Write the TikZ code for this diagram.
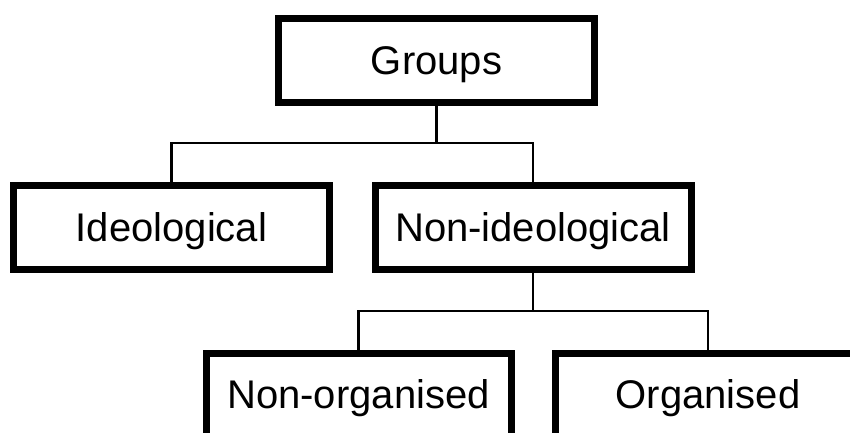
\documentclass[tikz,border=0pt]{standalone}
\usepackage{fontspec}
\setmainfont{Liberation Sans}

\begin{document}
\begin{tikzpicture}[x=1pt, y=-1pt,
  groupbox/.style={draw, line width=7pt, inner sep=0pt,
    minimum width=316pt, minimum height=84pt,
    text height=28.6pt, text depth=0pt,
    font=\fontsize{40}{48}\selectfont},
  lowbox/.style={groupbox, minimum width=305pt, minimum height=83pt},
  link/.style={line width=2.4pt}]
  \useasboundingbox (0,0) rectangle (850,433);
  \clip (0,0) rectangle (850,433);

  \node[groupbox] (groups) at (436.5,60.5) {Groups};
  \node[groupbox] (ideo) at (171.5,227) {Ideological};
  \node[groupbox] (nonideo) at (533,227) {Non-ideological};
  \node[lowbox] (nonorg) at (358.5,394.5) {Non-organised};
  \node[lowbox] (org) at (708,394.5) {Organised};

  \coordinate (split1) at (groups.south |- 0,143);
  \coordinate (split2) at (nonideo.south |- 0,311);

  \draw[link] (groups) -- (split1);
  \draw[link] (ideo.north) |- (split1) -| (nonideo.north);
  \draw[link] (nonideo) -- (split2);
  \draw[link] (nonorg.north) |- (split2) -| (org.north);
\end{tikzpicture}
\end{document}
